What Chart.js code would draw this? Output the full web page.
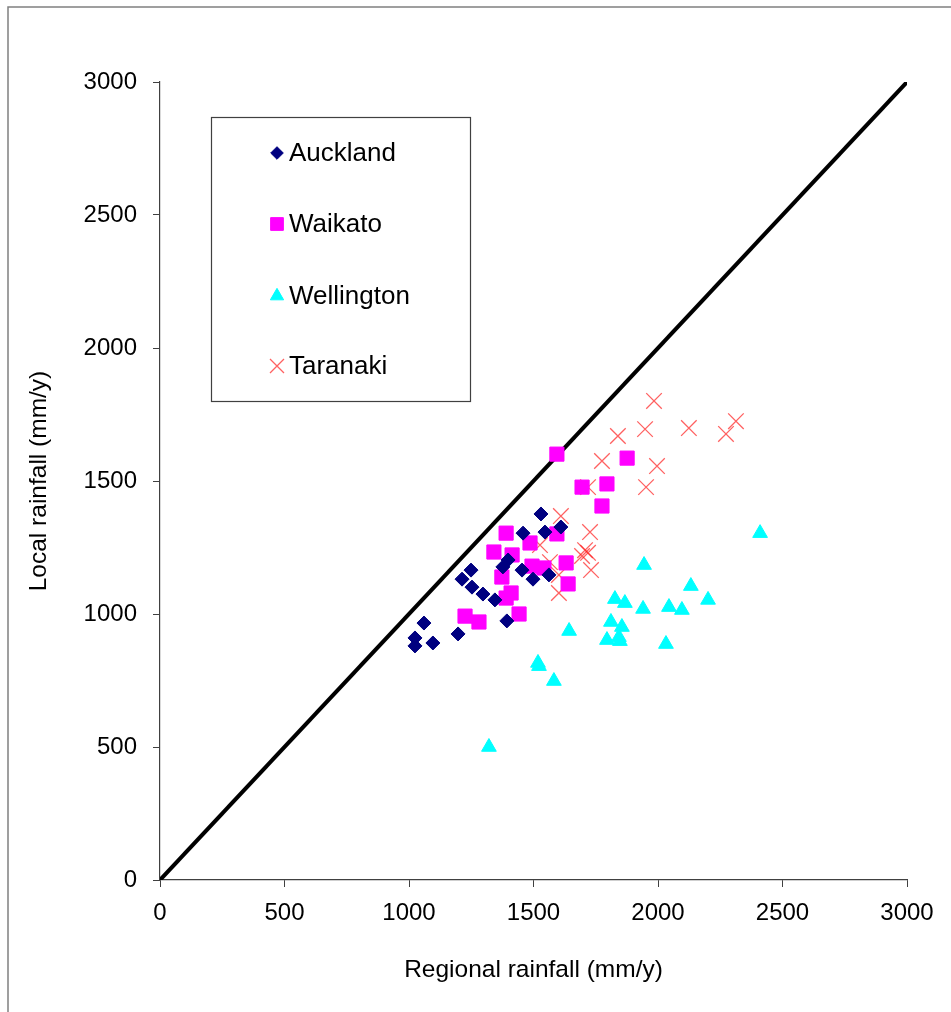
<!DOCTYPE html>
<html lang="en">
<head>
  <meta charset="UTF-8">
  <title>Local vs regional rainfall</title>
  <style>
    html, body { margin: 0; padding: 0; background: #fff; }
    .chartBox { position: relative; width: 951px; height: 1012px; }
  </style>
</head>
<body>
<div class="chartBox">
  <canvas id="myChart" width="951" height="1012"></canvas>
</div>
<script src="https://cdn.jsdelivr.net/npm/chart.js"></script>
<script>
  // values (mm/y)
  const seriesNames = ['Auckland', 'Waikato', 'Wellington', 'Taranaki'];

  const aucklandX = [1024, 1024, 1096, 1060, 1197, 1249, 1213, 1253, 1297, 1345, 1393, 1377, 1398, 1454, 1498, 1562, 1458, 1546, 1530, 1610];
  const aucklandY = [910, 880, 891, 966, 925, 1165, 1131, 1101, 1075, 1053, 974, 1177, 1203, 1165, 1131, 1147, 1304, 1308, 1376, 1327];

  const waikatoX = [1594, 1876, 1695, 1795, 1775, 1390, 1594, 1486, 1341, 1414, 1494, 1542, 1631, 1373, 1410, 1390, 1639, 1442, 1225, 1281];
  const waikatoY = [1601, 1586, 1477, 1489, 1406, 1304, 1301, 1267, 1233, 1222, 1180, 1173, 1192, 1139, 1079, 1060, 1113, 1000, 992, 970];

  const wellingtonX = [1944, 2132, 2201, 1827, 1867, 1940, 2044, 2096, 1643, 1811, 1855, 1795, 1843, 1847, 2032, 1518, 1522, 1582, 1321, 2410];
  const wellingtonY = [1184, 1105, 1053, 1056, 1041, 1019, 1026, 1015, 936, 970, 951, 902, 913, 898, 887, 816, 804, 748, 500, 1304];

  const taranakiX = [1984, 2313, 2273, 2124, 1948, 1839, 1775, 1996, 1952, 1719, 1610, 1727, 1707, 1719, 1695, 1731, 1526, 1566, 1602, 1602];
  const taranakiY = [1801, 1725, 1677, 1699, 1695, 1669, 1575, 1556, 1477, 1477, 1368, 1308, 1240, 1230, 1218, 1165, 1259, 1195, 1147, 1079];

  // 1:1 line
  const lineX = [0, 3000];
  const lineY = [0, 3000];

  const axisMin = 0;
  const axisMax = 3000;
  const axisStep = 500;

  function toPoints(xs, ys) {
    return xs.map((x, i) => ({x: x, y: ys[i]}));
  }

  const markers = [
    {style: 'rectRot', radius: 7, color: '#000080', border: '#000080', width: 1},
    {style: 'rect', radius: 10, color: '#ff00ff', border: '#ff00ff', width: 1},
    {style: 'triangle', radius: 8.5, color: '#00ffff', border: '#00ffff', width: 1},
    {style: 'crossRot', radius: 11, color: 'rgba(255,30,30,0.7)', border: 'rgba(255,30,30,0.7)', width: 1.3}
  ];

  const fontFamily = '"Liberation Sans", Arial, sans-serif';

  // white page + the grey frame at top and left
  const framePlugin = {
    id: 'frame',
    beforeDraw(chart) {
      const c = chart.ctx;
      c.save();
      c.fillStyle = '#ffffff';
      c.fillRect(0, 0, chart.width, chart.height);
      c.strokeStyle = '#808080';
      c.lineWidth = 1.5;
      c.beginPath();
      c.moveTo(8, chart.height);
      c.lineTo(8, 7);
      c.lineTo(chart.width, 7);
      c.stroke();
      c.restore();
    }
  };

  // boxed legend inside the plot area
  const boxLegend = {
    id: 'boxLegend',
    afterDraw(chart) {
      const c = chart.ctx;
      c.save();
      c.strokeStyle = '#404040';
      c.lineWidth = 1.2;
      c.strokeRect(211.5, 117.5, 259, 284);
      const rows = [153, 224, 296, 366];
      c.font = '26px ' + fontFamily;
      c.textBaseline = 'middle';
      c.textAlign = 'left';
      for (let i = 0; i < seriesNames.length; i++) {
        const m = markers[i];
        c.fillStyle = m.color;
        c.strokeStyle = m.border;
        c.lineWidth = m.width;
        Chart.helpers.drawPoint(c, {pointStyle: m.style, radius: m.radius * 0.9, rotation: 0, borderWidth: m.width}, 277, rows[i]);
        c.fillStyle = '#000000';
        c.fillText(seriesNames[i], 289, rows[i] + 1);
      }
      c.restore();
    }
  };

  const datasets = [
    [aucklandX, aucklandY],
    [waikatoX, waikatoY],
    [wellingtonX, wellingtonY],
    [taranakiX, taranakiY]
  ].map((s, i) => ({
    type: 'scatter',
    label: seriesNames[i],
    data: toPoints(s[0], s[1]),
    pointStyle: markers[i].style,
    pointRadius: markers[i].radius,
    pointHoverRadius: markers[i].radius,
    backgroundColor: markers[i].color,
    borderColor: markers[i].border,
    pointBorderWidth: markers[i].width
  }));

  datasets.push({
    type: 'line',
    label: '1:1',
    data: toPoints(lineX, lineY),
    borderColor: '#000000',
    borderWidth: 4,
    pointRadius: 0,
    fill: false,
    tension: 0
  });

  const plainNumber = (v) => String(v);

  const ctx = document.getElementById('myChart');

  const myChart = new Chart(ctx, {
    type: 'scatter',
    data: {datasets: datasets},
    options: {
      responsive: false,
      maintainAspectRatio: false,
      animation: false,
      devicePixelRatio: 1,
      layout: {
        padding: {left: 0, top: 82, right: 44, bottom: 0}
      },
      plugins: {
        legend: {display: false},
        tooltip: {enabled: false},
        title: {display: false}
      },
      scales: {
        x: {
          type: 'linear',
          min: axisMin,
          max: axisMax,
          afterFit(scale) { scale.height = 132; },
          ticks: {
            stepSize: axisStep,
            padding: 12,
            color: '#000000',
            font: {family: fontFamily, size: 24},
            callback: plainNumber
          },
          grid: {
            display: true,
            drawOnChartArea: false,
            drawTicks: true,
            tickLength: 7,
            color: '#404040'
          },
          border: {display: true, color: '#404040', width: 1.2},
          title: {
            display: true,
            text: 'Regional rainfall (mm/y)',
            color: '#000000',
            font: {family: fontFamily, size: 24.5},
            padding: {top: 0, bottom: 27}
          }
        },
        y: {
          type: 'linear',
          min: axisMin,
          max: axisMax,
          afterFit(scale) { scale.width = 160; },
          ticks: {
            stepSize: axisStep,
            padding: 16,
            color: '#000000',
            font: {family: fontFamily, size: 24},
            callback: plainNumber
          },
          grid: {
            display: true,
            drawOnChartArea: false,
            drawTicks: true,
            tickLength: 7,
            color: '#404040'
          },
          border: {display: true, color: '#404040', width: 1.2},
          title: {
            display: true,
            text: 'Local rainfall (mm/y)',
            color: '#000000',
            font: {family: fontFamily, size: 24.5},
            padding: {top: 25, bottom: 0}
          }
        }
      }
    },
    plugins: [framePlugin, boxLegend]
  });
</script>
</body>
</html>
